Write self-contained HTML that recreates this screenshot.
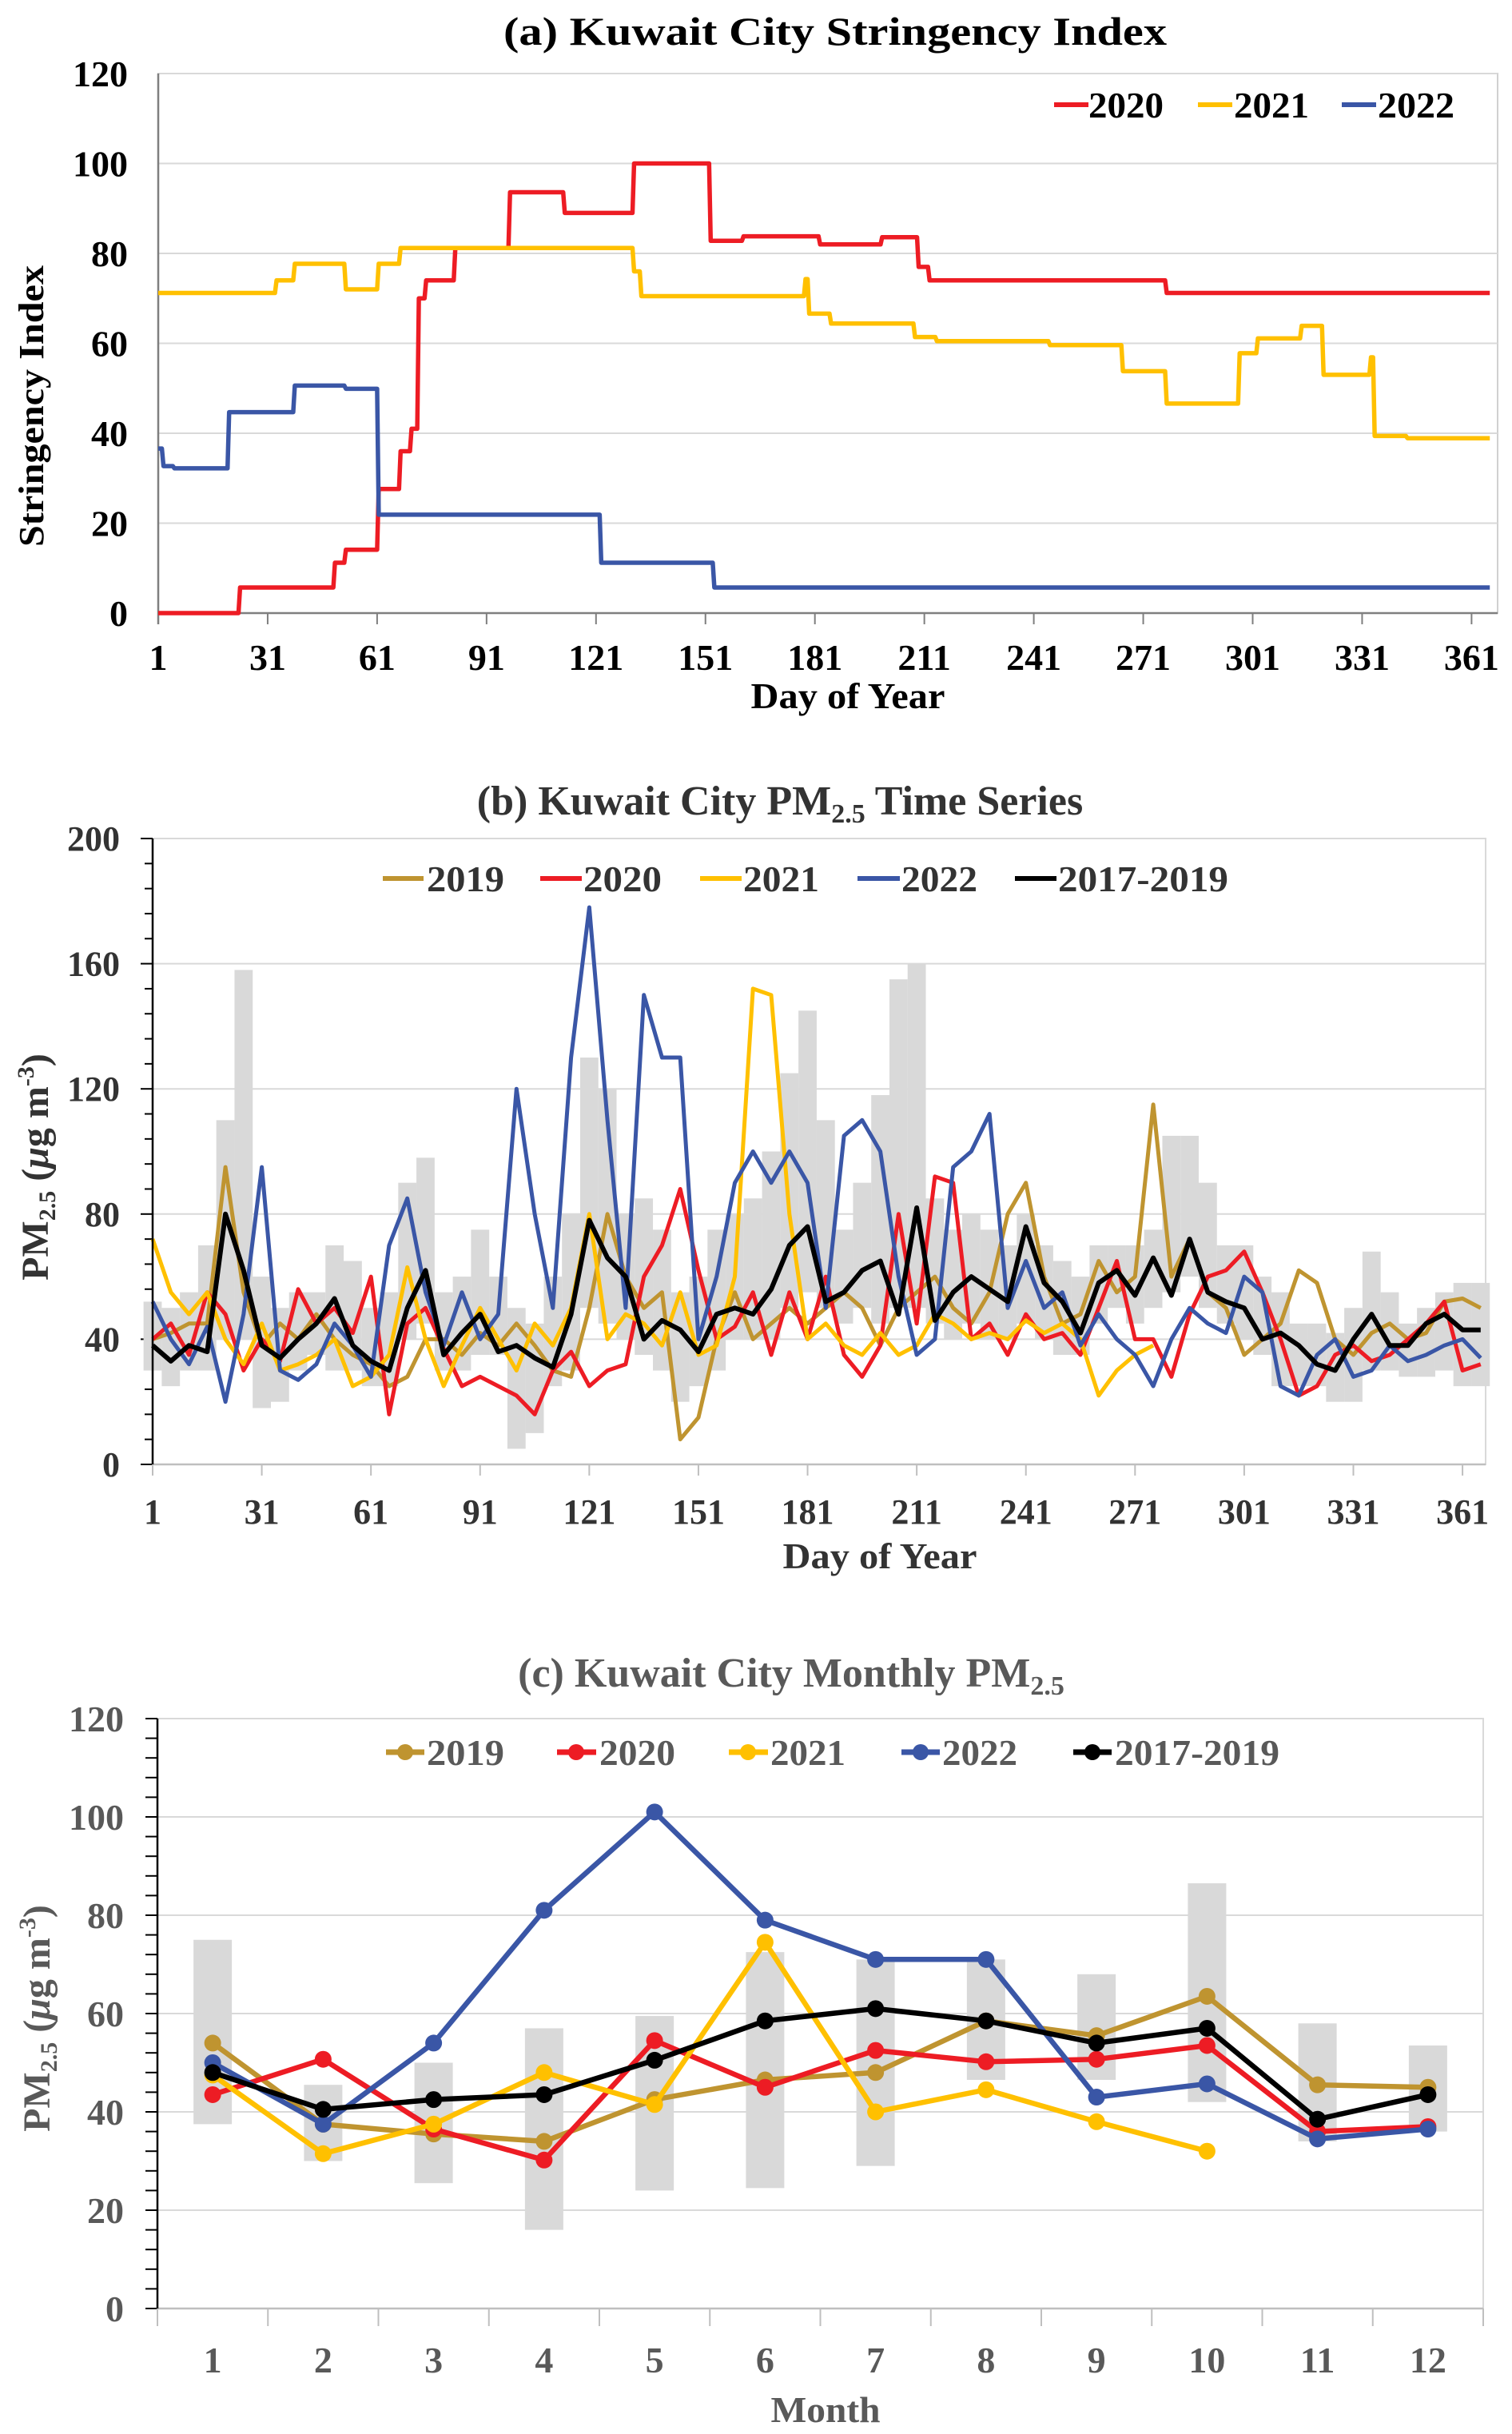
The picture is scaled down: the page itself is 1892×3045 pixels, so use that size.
<!DOCTYPE html>
<html><head><meta charset="utf-8"><title>Kuwait City Stringency and PM2.5</title>
<style>
html,body{margin:0;padding:0;background:#fff;}
svg{display:block;font-family:"Liberation Serif","DejaVu Serif",serif;font-weight:bold;}
</style></head>
<body>
<svg id="fig" xmlns="http://www.w3.org/2000/svg" width="1892" height="3045" viewBox="0 0 1892 3045">
<rect x="0" y="0" width="1892" height="3045" fill="#fff"/>
<g>
<text x="1045" y="56" text-anchor="middle" font-size="50" fill="#000" textLength="830" lengthAdjust="spacingAndGlyphs">(a) Kuwait City Stringency Index</text>
<text transform="translate(54,508) rotate(-90)" text-anchor="middle" font-size="44" fill="#000" textLength="352" lengthAdjust="spacingAndGlyphs">Stringency Index</text>
<text x="1061" y="886" text-anchor="middle" font-size="46" fill="#000" textLength="243" lengthAdjust="spacingAndGlyphs">Day of Year</text>
<g>
<g><line x1="1319" y1="131" x2="1362" y2="131" stroke="#ED1C24" stroke-width="6"/><text x="1362" y="147" font-size="46" textLength="94" lengthAdjust="spacingAndGlyphs">2020</text></g>
<g><line x1="1499" y1="131" x2="1542" y2="131" stroke="#FFC000" stroke-width="6"/><text x="1544" y="147" font-size="46" textLength="94" lengthAdjust="spacingAndGlyphs">2021</text></g>
<g><line x1="1679" y1="131" x2="1722" y2="131" stroke="#3A56A6" stroke-width="6"/><text x="1724" y="147" font-size="46" textLength="96" lengthAdjust="spacingAndGlyphs">2022</text></g>
</g>
</g>
<g>
<text x="976" y="1019" text-anchor="middle" font-size="52" fill="#333">(b) Kuwait City PM<tspan font-size="34" dy="10">2.5</tspan><tspan dy="-10"> Time Series</tspan></text>
<text transform="translate(60,1460) rotate(-90)" text-anchor="middle" font-size="48" fill="#333">PM<tspan font-size="30" dy="9">2.5</tspan><tspan dy="-9"> (</tspan><tspan font-style="italic">μ</tspan>g m<tspan font-size="30" dy="-18">-3</tspan><tspan dy="18">)</tspan></text>
<text x="1101" y="1962" text-anchor="middle" font-size="46" fill="#333" textLength="243" lengthAdjust="spacingAndGlyphs">Day of Year</text>
<g>
<g><line x1="479" y1="1099" x2="530" y2="1099" stroke="#BF9430" stroke-width="6"/><text x="534" y="1115" font-size="46" fill="#333" textLength="97" lengthAdjust="spacingAndGlyphs">2019</text></g>
<g><line x1="676" y1="1099" x2="728" y2="1099" stroke="#ED1C24" stroke-width="6"/><text x="730" y="1115" font-size="46" fill="#333" textLength="98" lengthAdjust="spacingAndGlyphs">2020</text></g>
<g><line x1="876" y1="1099" x2="928" y2="1099" stroke="#FFC000" stroke-width="6"/><text x="930" y="1115" font-size="46" fill="#333" textLength="95" lengthAdjust="spacingAndGlyphs">2021</text></g>
<g><line x1="1073" y1="1099" x2="1126" y2="1099" stroke="#3A56A6" stroke-width="6"/><text x="1128" y="1115" font-size="46" fill="#333" textLength="95" lengthAdjust="spacingAndGlyphs">2022</text></g>
<g><line x1="1270" y1="1099" x2="1322" y2="1099" stroke="#000" stroke-width="6"/><text x="1324" y="1115" font-size="46" fill="#333" textLength="213" lengthAdjust="spacingAndGlyphs">2017-2019</text></g>
</g>
</g>
<g>
<text x="990" y="2110" text-anchor="middle" font-size="52" fill="#595959">(c) Kuwait City Monthly PM<tspan font-size="34" dy="10">2.5</tspan></text>
<text transform="translate(62,2525) rotate(-90)" text-anchor="middle" font-size="48" fill="#595959">PM<tspan font-size="30" dy="9">2.5</tspan><tspan dy="-9"> (</tspan><tspan font-style="italic">μ</tspan>g m<tspan font-size="30" dy="-18">-3</tspan><tspan dy="18">)</tspan></text>
<text x="1033" y="3030" text-anchor="middle" font-size="46" fill="#595959" textLength="137" lengthAdjust="spacingAndGlyphs">Month</text>
<g>
<g><line x1="483" y1="2192" x2="531" y2="2192" stroke="#BF9430" stroke-width="7"/><circle cx="507" cy="2192" r="10" fill="#BF9430"/><text x="534" y="2208" font-size="46" fill="#595959" textLength="97" lengthAdjust="spacingAndGlyphs">2019</text></g>
<g><line x1="697" y1="2192" x2="746" y2="2192" stroke="#ED1C24" stroke-width="7"/><circle cx="721" cy="2192" r="10" fill="#ED1C24"/><text x="750" y="2208" font-size="46" fill="#595959" textLength="95" lengthAdjust="spacingAndGlyphs">2020</text></g>
<g><line x1="912" y1="2192" x2="961" y2="2192" stroke="#FFC000" stroke-width="7"/><circle cx="936" cy="2192" r="10" fill="#FFC000"/><text x="964" y="2208" font-size="46" fill="#595959" textLength="94" lengthAdjust="spacingAndGlyphs">2021</text></g>
<g><line x1="1128" y1="2192" x2="1176" y2="2192" stroke="#3A56A6" stroke-width="7"/><circle cx="1152" cy="2192" r="10" fill="#3A56A6"/><text x="1179" y="2208" font-size="46" fill="#595959" textLength="94" lengthAdjust="spacingAndGlyphs">2022</text></g>
<g><line x1="1343" y1="2192" x2="1391" y2="2192" stroke="#000" stroke-width="7"/><circle cx="1367" cy="2192" r="10" fill="#000"/><text x="1395" y="2208" font-size="46" fill="#595959" textLength="206" lengthAdjust="spacingAndGlyphs">2017-2019</text></g>
</g>
</g>
<g id="plots"></g>
</svg>
<script>
// ---------- Panel A data (step change points) ----------
const aTicksX = [1,31,61,91,121,151,181,211,241,271,301,331,361];
const aTicksY = [0,20,40,60,80,100,120];
const s2020Days = [1,23,49,52,61,67,70,72,74,82,97,112,131,152,161,182,199,209,212,277];
const s2020Vals = [0,5.7,11.2,14.1,27.6,36,41,70,74,81.2,93.6,89,100,82.8,83.8,82,83.6,77,74,71.2];
const s2021Days = [1,33,38,52,61,67,131,133,178,179,185,208,214,245,265,277,297,302,314,320,333,334,343];
const s2021Vals = [71.2,74,77.7,72,77.7,81.2,76,70.5,74.3,66.6,64.4,61.4,60.5,59.6,53.8,46.6,57.8,61.1,63.9,53,56.9,39.4,38.9];
const s2022Days = [1,2,5,20,38,52,61,122,153];
const s2022Vals = [36.6,32.7,32.2,44.7,50.6,49.9,21.9,11.2,5.7];

// ---------- Panel B data (5-day samples) ----------
const bTicksX = [1,31,61,91,121,151,181,211,241,271,301,331,361];
const bTicksY = [0,40,80,120,160,200];
const bDays = [1,6,11,16,21,26,31,36,41,46,51,56,61,66,71,76,81,86,91,96,101,106,111,116,121,126,131,136,141,146,151,156,161,166,171,176,181,186,191,196,201,206,211,216,221,226,231,236,241,246,251,256,261,266,271,276,281,286,291,296,301,306,311,316,321,326,331,336,341,346,351,356,361,366];
const pm2019 = [40,42,45,45,95,55,38,45,40,48,40,35,32,25,28,40,40,35,42,38,45,38,30,28,50,80,60,50,55,8,15,40,55,40,45,50,45,50,55,50,38,50,55,60,50,45,55,80,90,60,45,48,65,55,60,115,60,72,55,50,35,40,45,62,58,40,35,42,45,40,42,52,53,50];
const pm2020 = [40,45,35,55,48,30,40,33,56,45,50,42,60,16,45,50,37,25,28,25,22,16,30,36,25,30,32,60,70,88,62,40,44,55,35,55,40,60,35,28,38,80,45,92,90,40,45,35,48,40,42,35,50,65,40,40,28,48,60,62,68,55,40,22,25,35,38,33,35,40,45,52,30,32];
const pm2021 = [72,55,48,55,40,32,45,30,32,35,40,25,28,35,63,40,25,38,50,40,30,45,38,50,80,40,48,45,38,55,35,38,60,152,150,80,40,45,38,35,42,35,38,48,45,40,42,40,46,42,45,40,22,30,35,38,null,null,null,null,null,null,null,null,null,null,null,null,null,null,null,null,null,null];
const pm2022 = [52,40,32,44,20,48,95,30,27,32,45,38,28,70,85,55,38,55,40,48,120,80,50,130,178,110,50,150,130,130,40,60,90,100,90,100,90,50,105,110,100,60,35,40,95,100,112,50,65,50,55,38,48,40,35,25,40,50,45,42,60,55,25,22,35,40,28,30,38,33,35,38,40,34];
const pmBase = [38,33,38,36,80,62,38,34,40,45,53,38,33,30,50,62,35,42,48,36,38,34,31,48,78,66,60,40,46,43,36,48,50,48,56,70,76,52,55,62,65,48,82,46,55,60,56,52,76,58,52,42,58,62,54,66,54,72,55,52,50,40,42,38,32,30,40,48,38,38,45,48,43,43];
const rangeLo = [30,25,30,30,40,40,18,20,30,35,30,30,25,25,40,45,30,30,35,35,5,10,25,30,50,45,40,35,30,20,25,30,40,40,40,50,55,50,45,50,45,50,50,45,40,45,40,40,45,40,35,35,45,50,45,50,55,60,50,45,40,35,25,25,25,20,20,30,30,28,28,30,25,25];
const rangeHi = [52,50,55,70,110,158,60,50,55,55,70,65,50,55,90,98,55,60,75,60,50,45,60,80,130,120,80,85,75,55,60,75,80,85,100,125,145,110,75,90,118,155,160,85,75,80,75,70,80,70,65,60,70,70,70,75,105,105,90,70,70,60,55,45,45,42,50,68,55,45,50,55,58,58];

// ---------- Panel C data ----------
const months = [1,2,3,4,5,6,7,8,9,10,11,12];
const cTicksY = [0,20,40,60,80,100,120];
const m2019 = [54,37.5,35.5,34,42.5,46.5,48,58.5,55.5,63.5,45.5,45];
const m2020 = [43.5,50.7,36.5,30.2,54.5,45,52.5,50.2,50.7,53.5,36,37];
const m2021 = [47.5,31.5,37.5,48,41.5,74.5,40,44.5,38,32,null,null];
const m2022 = [50,37.5,54,81,101,79,71,71,43,45.7,34.5,36.5];
const mBase = [48,40.5,42.5,43.5,50.5,58.5,61,58.5,54,57,38.5,43.5];
const mLo = [37.5,30,25.5,16,24,24.5,29,46.5,46.5,42,34,36];
const mHi = [75,45.5,50,57,59.5,72.5,71,71,68,86.5,58,53.5];

const NS = 'http://www.w3.org/2000/svg';
const root = document.getElementById('plots');
function mk(tag, attrs, parent) {
  const e = document.createElementNS(NS, tag);
  for (const k in attrs) e.setAttribute(k, attrs[k]);
  (parent || root).appendChild(e);
  return e;
}

// ================= PANEL A =================
const aX = d => 198 + (d - 1) * 4.565;
const aY = v => 767 - v * (767 - 92) / 120;
const ga = mk('g', {});


const aFrame = mk('rect', {x:198, y:92, width:1676, height:675, fill:'none', stroke:'#d0d0d0', 'stroke-width':2}, ga);


aTicksY.forEach(v => {
  if (v > 0) {
    const gl = mk('line', {x1:198, x2:1874, y1:aY(v), y2:aY(v), stroke:'#d9d9d9', 'stroke-width':2}, ga);
    
    
  }
  const t = mk('text', {x:160, y:aY(v) + 16, 'text-anchor':'end', 'font-size':46, fill:'#000'}, ga);
  t.textContent = v;
  
  
});
aTicksX.forEach(d => {
  const tk = mk('line', {x1:aX(d), x2:aX(d), y1:767, y2:781, stroke:'#7f7f7f', 'stroke-width':2}, ga);
  
  
  const t = mk('text', {x:aX(d), y:838, 'text-anchor':'middle', 'font-size':46, fill:'#000'}, ga);
  t.textContent = d;
  
  
});
const aAxX = mk('line', {x1:198, x2:1874, y1:767, y2:767, stroke:'#7f7f7f', 'stroke-width':2.5}, ga);


const aAxY = mk('line', {x1:198, x2:198, y1:92, y2:781, stroke:'#7f7f7f', 'stroke-width':2.5}, ga);


function stepPath(days, vals, endDay) {
  let p = 'M' + aX(days[0]) + ' ' + aY(vals[0]);
  for (let i = 1; i < days.length; i++) {
    p += ' L' + aX(days[i]) + ' ' + aY(vals[i - 1]) + ' L' + (aX(days[i]) + 2) + ' ' + aY(vals[i]);
  }
  p += ' L' + aX(endDay) + ' ' + aY(vals[vals.length - 1]);
  return p;
}
const ln2020a = mk('path', {d:stepPath(s2020Days, s2020Vals, 366), fill:'none', stroke:'#ED1C24', 'stroke-width':5.5, 'stroke-linejoin':'round'}, ga);


const ln2021a = mk('path', {d:stepPath(s2021Days, s2021Vals, 366), fill:'none', stroke:'#FFC000', 'stroke-width':5.5, 'stroke-linejoin':'round'}, ga);


const ln2022a = mk('path', {d:stepPath(s2022Days, s2022Vals, 366), fill:'none', stroke:'#3A56A6', 'stroke-width':5.5, 'stroke-linejoin':'round'}, ga);



// ================= PANEL B =================
const bX = d => 191 + (d - 1) * 4.553;
const bY = v => 1832 - v * (1832 - 1049) / 200;
const gb = mk('g', {});


const bFrame = mk('rect', {x:191, y:1049, width:1668, height:783, fill:'none', stroke:'#d9d9d9', 'stroke-width':2}, gb);


bTicksY.forEach(v => {
  if (v > 0) {
    const gl = mk('line', {x1:191, x2:1859, y1:bY(v), y2:bY(v), stroke:'#d9d9d9', 'stroke-width':2}, gb);
    
    
  }
  const t = mk('text', {x:150, y:bY(v) + 15, 'text-anchor':'end', 'font-size':44, fill:'#333'}, gb);
  t.textContent = v;
  
  
});
for (let v = 0; v <= 200; v += 8) {
  const major = (v % 40 === 0);
  const tk = mk('line', {x1:major ? 176 : 181, x2:191, y1:bY(v), y2:bY(v), stroke:'#000', 'stroke-width':2}, gb);
  
  
}
for (let i = 0; i < bDays.length; i++) {
  const x0 = bX(bDays[i]) - 11.4, w = 22.8;
  const r = mk('rect', {x:x0, y:bY(rangeHi[i]), width:w, height:bY(rangeLo[i]) - bY(rangeHi[i]), fill:'#d9d9d9'}, gb);
  
  
}
bTicksX.forEach(d => {
  const tk = mk('line', {x1:bX(d), x2:bX(d), y1:1832, y2:1846, stroke:'#bfbfbf', 'stroke-width':2}, gb);
  
  
  const t = mk('text', {x:bX(d), y:1906, 'text-anchor':'middle', 'font-size':44, fill:'#333'}, gb);
  t.textContent = d;
  
  
});
function seriesPath(xs, vals, fx, fy) {
  let p = '', pen = false;
  for (let i = 0; i < xs.length; i++) {
    if (vals[i] === null) { pen = false; continue; }
    p += (pen ? ' L' : ' M') + fx(xs[i]).toFixed(1) + ' ' + fy(vals[i]).toFixed(1);
    pen = true;
  }
  return p;
}
const b2019 = mk('path', {d:seriesPath(bDays, pm2019, bX, bY), fill:'none', stroke:'#BF9430', 'stroke-width':5, 'stroke-linejoin':'round'}, gb);


const b2020 = mk('path', {d:seriesPath(bDays, pm2020, bX, bY), fill:'none', stroke:'#ED1C24', 'stroke-width':5, 'stroke-linejoin':'round'}, gb);


const b2021 = mk('path', {d:seriesPath(bDays, pm2021, bX, bY), fill:'none', stroke:'#FFC000', 'stroke-width':5, 'stroke-linejoin':'round'}, gb);


const b2022 = mk('path', {d:seriesPath(bDays, pm2022, bX, bY), fill:'none', stroke:'#3A56A6', 'stroke-width':5, 'stroke-linejoin':'round'}, gb);


const bBase = mk('path', {d:seriesPath(bDays, pmBase, bX, bY), fill:'none', stroke:'#000', 'stroke-width':6, 'stroke-linejoin':'round'}, gb);


const bAxX = mk('line', {x1:191, x2:1859, y1:1832, y2:1832, stroke:'#bfbfbf', 'stroke-width':2.5}, gb);


const bAxY = mk('line', {x1:191, x2:191, y1:1049, y2:1832, stroke:'#000', 'stroke-width':2.5}, gb);



// ================= PANEL C =================
const cBand = (1856 - 197) / 12;
const cX = m => 197 + (m - 0.5) * cBand;
const cY = v => 2888 - v * (2888 - 2150) / 120;
const gc = mk('g', {});


const cFrame = mk('rect', {x:197, y:2150, width:1659, height:738, fill:'none', stroke:'#d9d9d9', 'stroke-width':2}, gc);


cTicksY.forEach(v => {
  if (v > 0) {
    const gl = mk('line', {x1:197, x2:1856, y1:cY(v), y2:cY(v), stroke:'#d9d9d9', 'stroke-width':2}, gc);
    
    
  }
  const t = mk('text', {x:155, y:cY(v) + 16, 'text-anchor':'end', 'font-size':46, fill:'#595959'}, gc);
  t.textContent = v;
  
  
});
for (let v = 0; v <= 120; v += 4) {
  const tk = mk('line', {x1:182, x2:197, y1:cY(v), y2:cY(v), stroke:'#000', 'stroke-width':2}, gc);
  
  
}
for (let k = 0; k <= 12; k++) {
  const tk = mk('line', {x1:197 + k * cBand, x2:197 + k * cBand, y1:2888, y2:2910, stroke:'#bfbfbf', 'stroke-width':2}, gc);
  
  
}
months.forEach((m, i) => {
  const r = mk('rect', {x:cX(m) - 24, y:cY(mHi[i]), width:48, height:cY(mLo[i]) - cY(mHi[i]), fill:'#d9d9d9'}, gc);
  
  
  const t = mk('text', {x:cX(m), y:2968, 'text-anchor':'middle', 'font-size':46, fill:'#595959'}, gc);
  t.textContent = m;
  
  
});
function drawMonthly(vals, color, name) {
  const g = mk('g', {}, gc);
  
  
  const p = mk('path', {d:seriesPath(months, vals, cX, cY), fill:'none', stroke:color, 'stroke-width':6.5, 'stroke-linejoin':'round'}, g);
  
  
  months.forEach((m, i) => {
    if (vals[i] === null) return;
    const c = mk('circle', {cx:cX(m), cy:cY(vals[i]), r:10.5, fill:color}, g);
    
    
  });
}
drawMonthly(m2019, '#BF9430', 'monthly-2019');
drawMonthly(m2020, '#ED1C24', 'monthly-2020');
drawMonthly(m2021, '#FFC000', 'monthly-2021');
drawMonthly(m2022, '#3A56A6', 'monthly-2022');
drawMonthly(mBase, '#000000', 'monthly-2017-2019');
const cAxX = mk('line', {x1:197, x2:1856, y1:2888, y2:2888, stroke:'#bfbfbf', 'stroke-width':2.5}, gc);


const cAxY = mk('line', {x1:197, x2:197, y1:2150, y2:2888, stroke:'#000', 'stroke-width':2.5}, gc);


</script>
</body></html>
